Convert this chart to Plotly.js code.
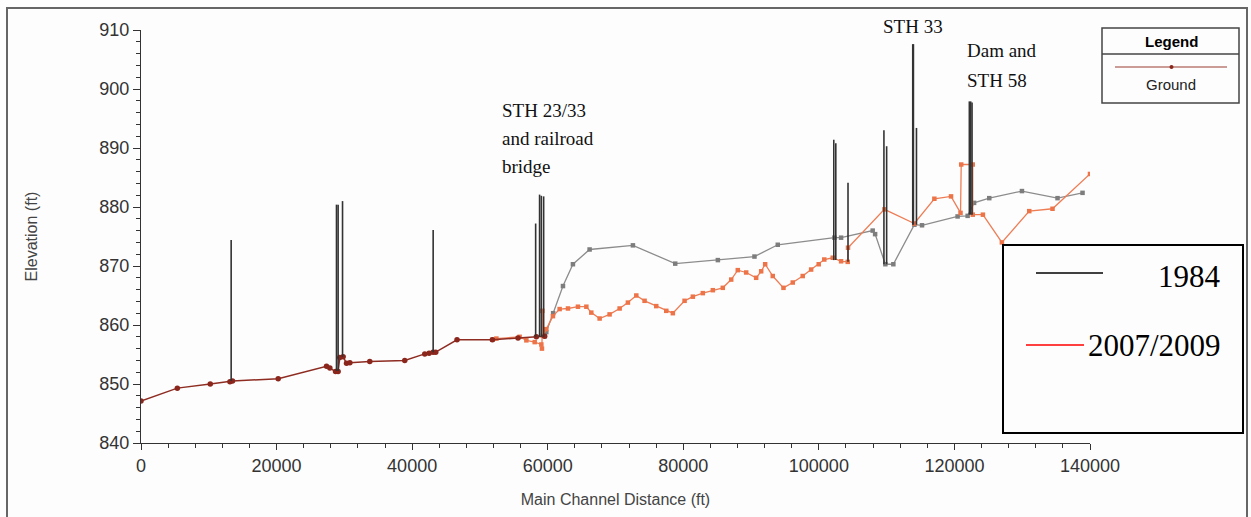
<!DOCTYPE html>
<html><head><meta charset="utf-8">
<script src="https://cdn.plot.ly/plotly-3.0.1.min.js"></script>
<style>html,body{margin:0;padding:0;background:#fff;}#chart{width:1251px;height:517px;}</style>
</head><body><div id="chart"></div>
<script>
// Shared ground profile (both surveys coincide), ft
const commonDist = [0, 5360, 10220, 13120, 13500, 20240, 27370, 27860, 28700, 29080, 29330, 29820, 30320, 30810, 33750, 38910, 41860, 42500, 43090, 43480, 46620, 51840, 55620, 58330, 59550];
const commonElev = [847.1, 849.3, 850.0, 850.4, 850.5, 850.9, 853.0, 852.7, 852.1, 852.1, 854.5, 854.6, 853.5, 853.6, 853.8, 854.0, 855.1, 855.2, 855.4, 855.4, 857.5, 857.5, 857.8, 858.0, 858.1];
// 1984 ground
const dist1984 = [59550, 59790, 60800, 62250, 63720, 66180, 72570, 78810, 85100, 90500, 93940, 102290, 103280, 107940, 108300, 109810, 110990, 114090, 115220, 120470, 121950, 122900, 125140, 129960, 135210, 138900];
const elev1984 = [858.1, 858.8, 862.0, 866.6, 870.3, 872.8, 873.5, 870.4, 871.0, 871.6, 873.6, 874.8, 874.8, 876.0, 875.4, 870.3, 870.3, 877.0, 876.9, 878.4, 878.5, 880.7, 881.5, 882.7, 881.5, 882.4];
// 2007/2009 ground
const dist2007 = [51840, 52430, 55860, 56850, 58080, 59060, 59150, 59200, 59300, 59790, 60770, 61760, 62990, 64460, 65700, 66430, 67660, 69130, 70610, 71830, 73070, 74290, 76010, 77490, 78460, 80190, 81410, 82880, 84360, 85830, 87070, 88040, 89280, 90750, 91490, 92080, 93200, 94780, 96150, 97620, 98860, 99980, 100800, 102050, 103280, 104260, 104300, 109670, 114090, 117040, 119500, 120900, 121000, 122700, 122700, 124200, 127000, 131040, 134470, 140000];
const elev2007 = [857.5, 857.7, 858.0, 857.4, 857.1, 856.7, 856.0, 862.4, 858.2, 859.3, 861.5, 862.7, 862.8, 863.1, 863.1, 862.1, 861.1, 861.8, 862.8, 863.8, 865.0, 864.1, 863.2, 862.4, 862.0, 864.1, 864.8, 865.4, 865.9, 866.3, 867.7, 869.3, 868.9, 868.0, 869.1, 870.3, 868.3, 866.3, 867.2, 868.3, 869.4, 870.3, 871.1, 871.4, 870.8, 870.7, 873.1, 879.6, 877.2, 881.4, 881.8, 879.0, 887.2, 887.2, 878.7, 878.7, 874.0, 879.3, 879.7, 885.6];
// Bridge decks (1984), ft
const bridgeDist = [13300, 28840, 29080, 29730, 43100, 58220, 58800, 59060, 59400, 102200, 102500, 104300, 109600, 110000, 113850, 113950, 114400, 122200, 122400, 122600];
const bridgeLow  = [850.5, 852.2, 852.2, 854.6, 855.4, 858.0, 858.0, 858.0, 858.0, 871.0, 871.0, 870.7, 870.3, 870.3, 877.0, 877.0, 877.0, 878.7, 878.7, 878.7];
const bridgeTop  = [874.4, 880.4, 880.4, 881.0, 876.1, 877.2, 882.1, 881.9, 881.8, 891.4, 890.8, 884.1, 893.0, 890.3, 907.6, 907.6, 893.4, 897.9, 897.9, 897.7];
const xTicks = [0, 20000, 40000, 60000, 80000, 100000, 120000, 140000];
const yTicks = [840, 850, 860, 870, 880, 890, 900, 910];
const labels = ["STH 23/33", "and railroad", "bridge", "STH 33", "Dam and", "STH 58"];
const legendNames = ["1984", "2007/2009"];

const bx = [], by = [];
bridgeDist.forEach((d, i) => { bx.push(d, d, null); by.push(bridgeLow[i], bridgeTop[i], null); });

const L = 141, T = 30, W = 949, H = 413;
const px = v => (v - L) / W;
const py = v => (T + H - v) / H;

const traces = [
  {x: dist1984, y: elev1984, mode: 'lines+markers', line: {color: '#8c8c8c', width: 1.3}, marker: {color: '#7d7d7d', size: 4.5, symbol: 'square'}, showlegend: false},
  {x: dist2007, y: elev2007, mode: 'lines+markers', line: {color: '#ee7d55', width: 1.3}, marker: {color: '#ec7448', size: 4.5, symbol: 'square'}, showlegend: false},
  {x: commonDist, y: commonElev, mode: 'lines+markers', line: {color: '#8e2c22', width: 1.5}, marker: {color: '#8a261c', size: 5.5}, showlegend: false},
  {x: bx, y: by, mode: 'lines', line: {color: '#333', width: 1.6}, connectgaps: false, showlegend: false}
];

const serif = 'Liberation Serif, Times New Roman, serif';
const sans = 'Liberation Sans, Arial, sans-serif';
const P = {xref: 'paper', yref: 'paper', yanchor: 'middle', showarrow: false};
const ann = [
  {text: labels[0], x: px(500), y: py(110)},
  {text: labels[1], x: px(500), y: py(138)},
  {text: labels[2], x: px(500), y: py(166)},
  {text: labels[3], x: px(881), y: py(27)},
  {text: labels[4], x: px(965), y: py(51)},
  {text: labels[5], x: px(965), y: py(80)}
].map(a => Object.assign(a, P, {xanchor: 'left', font: {family: serif, size: 19, color: '#111'}}));
ann.push(
  Object.assign({text: 'Legend', x: px(1171), y: py(41.5), xanchor: 'center', font: {family: sans, size: 15, color: '#000', weight: 'bold'}}, P),
  Object.assign({text: 'Ground', x: px(1171), y: py(84), xanchor: 'center', font: {family: sans, size: 15, color: '#222'}}, P),
  Object.assign({text: legendNames[0], x: px(1223), y: py(276), xanchor: 'right', font: {family: serif, size: 31, color: '#000'}}, P),
  Object.assign({text: legendNames[1], x: px(1223), y: py(345), xanchor: 'right', font: {family: serif, size: 31, color: '#000'}}, P)
);
const shapes = [
  {type: 'rect', xref: 'paper', yref: 'paper', x0: px(7), x1: px(1247), y0: py(525), y1: py(8), line: {color: '#666', width: 2}},
  {type: 'rect', xref: 'paper', yref: 'paper', x0: px(1102), x1: px(1239), y0: py(103), y1: py(28), line: {color: '#444', width: 1.5}},
  {type: 'line', xref: 'paper', yref: 'paper', x0: px(1102), x1: px(1239), y0: py(54), y1: py(54), line: {color: '#444', width: 1.5}},
  {type: 'line', xref: 'paper', yref: 'paper', x0: px(1115), x1: px(1227), y0: py(67), y1: py(67), line: {color: '#9a3a2e', width: 1.2}},
  {type: 'circle', xref: 'paper', yref: 'paper', x0: px(1169.5), x1: px(1173.5), y0: py(69), y1: py(65), fillcolor: '#8a261c', line: {color: '#8a261c', width: 0}},
  {type: 'rect', xref: 'paper', yref: 'paper', x0: px(1003), x1: px(1243), y0: py(433), y1: py(245), line: {color: '#000', width: 2}},
  {type: 'line', xref: 'paper', yref: 'paper', x0: px(1036), x1: px(1103), y0: py(273), y1: py(273), line: {color: '#000', width: 1.5}},
  {type: 'line', xref: 'paper', yref: 'paper', x0: px(1026), x1: px(1084), y0: py(345), y1: py(345), line: {color: '#f00', width: 1.5}}
];

const layout = {
  width: 1251, height: 517,
  margin: {l: L, r: 1251 - L - W, t: T, b: 517 - T - H, pad: 0},
  paper_bgcolor: '#fdfdfd', plot_bgcolor: '#fdfdfd',
  showlegend: false,
  xaxis: {range: [0, 140000], tickvals: xTicks, ticktext: xTicks.map(String), showgrid: false, zeroline: false,
    showline: true, linecolor: '#333', linewidth: 1.2, ticks: 'outside', ticklen: 6, tickcolor: '#333',
    minor: {dtick: 4000, ticks: 'outside', ticklen: 4, tickcolor: '#333'},
    tickfont: {family: sans, size: 18, color: '#333'},
    title: {text: 'Main Channel Distance (ft)', font: {family: sans, size: 16, color: '#444'}, standoff: 19}},
  yaxis: {range: [840, 910], tickvals: yTicks, ticktext: yTicks.map(String), showgrid: false, zeroline: false,
    showline: true, linecolor: '#333', linewidth: 1.2, ticks: 'outside', ticklen: 7, tickcolor: '#333',
    minor: {dtick: 2, ticks: 'outside', ticklen: 4, tickcolor: '#333'},
    tickfont: {family: sans, size: 18, color: '#333'},
    title: {text: 'Elevation (ft)', font: {family: sans, size: 16, color: '#444'}, standoff: 57}},
  annotations: ann, shapes: shapes
};
Plotly.newPlot('chart', traces, layout, {displayModeBar: false, staticPlot: true});
</script></body></html>
